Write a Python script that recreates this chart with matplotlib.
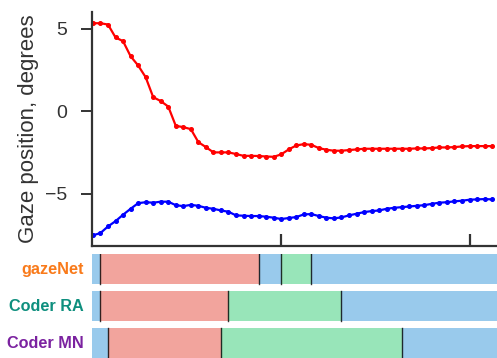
import matplotlib.pyplot as plt
import numpy as np

plt.rcParams['font.family'] = ['Liberation Sans', 'DejaVu Sans']

# gaze traces, one sample per point (degrees)
red_trace = [5.33, 5.33, 5.25, 4.47, 4.24, 3.33, 2.77, 2.06, 0.85, 0.61,
             0.28, -0.89, -0.97, -1.09, -1.88, -2.18, -2.50, -2.50, -2.50, -2.60,
             -2.71, -2.71, -2.72, -2.75, -2.77, -2.62, -2.32, -2.08, -2.00, -2.04,
             -2.24, -2.34, -2.40, -2.40, -2.36, -2.32, -2.28, -2.28, -2.28, -2.28,
             -2.28, -2.28, -2.28, -2.26, -2.26, -2.24, -2.20, -2.20, -2.18, -2.14,
             -2.12, -2.12, -2.12, -2.12]
blue_trace = [-7.53, -7.39, -6.99, -6.67, -6.28, -5.92, -5.58, -5.52, -5.55, -5.49,
              -5.49, -5.70, -5.76, -5.68, -5.74, -5.86, -5.92, -6.02, -6.10, -6.32,
              -6.34, -6.36, -6.36, -6.40, -6.46, -6.54, -6.48, -6.42, -6.26, -6.24,
              -6.36, -6.46, -6.50, -6.44, -6.32, -6.22, -6.12, -6.06, -6.02, -5.92,
              -5.86, -5.82, -5.78, -5.74, -5.70, -5.62, -5.55, -5.52, -5.47, -5.43,
              -5.37, -5.35, -5.33, -5.35]
samples = np.arange(len(red_trace))

# event labelling per coder: change points (sample index) and event per segment
coders = ['gazeNet', 'Coder RA', 'Coder MN']
coder_colors = ['#F97A1A', '#0E8F7E', '#7B22A0']
change_points = [[1, 22, 25, 29], [1, 18, 33], [2, 17, 41]]
event_seq = [['fix', 'sacc', 'fix', 'pso', 'fix'],
             ['fix', 'sacc', 'pso', 'fix'],
             ['fix', 'sacc', 'pso', 'fix']]
event_colors = {'fix': '#99CAEC', 'sacc': '#F2A49D', 'pso': '#98E5B9'}

x_lo, x_hi = -0.13, 53.65
dark = '#333333'

fig = plt.figure(figsize=(4.97, 3.58), dpi=100)

ax = fig.add_axes([0.185, 0.314, 0.815, 0.652])
ax.plot(samples, red_trace, '-o', color='red', lw=1.6, ms=2.6)
ax.plot(samples, blue_trace, '-o', color='blue', lw=1.6, ms=2.6)
ax.set_xlim(x_lo, x_hi)
ax.set_ylim(-8.15, 6.0)
ax.set_yticks([-5, 0, 5])
ax.set_yticklabels(['\u22125', '0', '5'])
ax.set_xticks([25, 50])
ax.set_xticklabels([])
for side in ['top', 'right']:
    ax.spines[side].set_visible(False)
for side in ['left', 'bottom']:
    ax.spines[side].set_color(dark)
    ax.spines[side].set_linewidth(1.6)
ax.tick_params(axis='y', direction='out', length=8, width=1.4, colors=dark,
               labelsize=14, pad=10)
ax.tick_params(axis='x', direction='in', length=8.5, width=1.6, colors=dark)
ax.set_ylabel('Gaze position, degrees', fontsize=16, color=dark, labelpad=4)

# event bars, one row per coder
bx = fig.add_axes([0.185, 0.0, 0.815, 0.2905])
bx.set_xlim(x_lo, x_hi)
bx.set_ylim(104, 0)
bx.axis('off')
row_h = 30
for i, (name, cps, evs) in enumerate(zip(coders, change_points, event_seq)):
    y0 = i * 37
    edges = [x_lo] + cps + [x_hi]
    for a, b, ev in zip(edges[:-1], edges[1:], evs):
        bx.broken_barh([(a, b - a)], (y0, row_h), facecolors=event_colors[ev])
    for c in cps:
        bx.plot([c, c], [y0, y0 + row_h], color='black', lw=1.0, alpha=0.8)
    bx.text(x_lo - 1.1, y0 + row_h / 2 + 0.5, name, ha='right', va='center',
            fontsize=11.7, fontweight='bold', color=coder_colors[i], clip_on=False)

fig.savefig('out.png', dpi=100)
